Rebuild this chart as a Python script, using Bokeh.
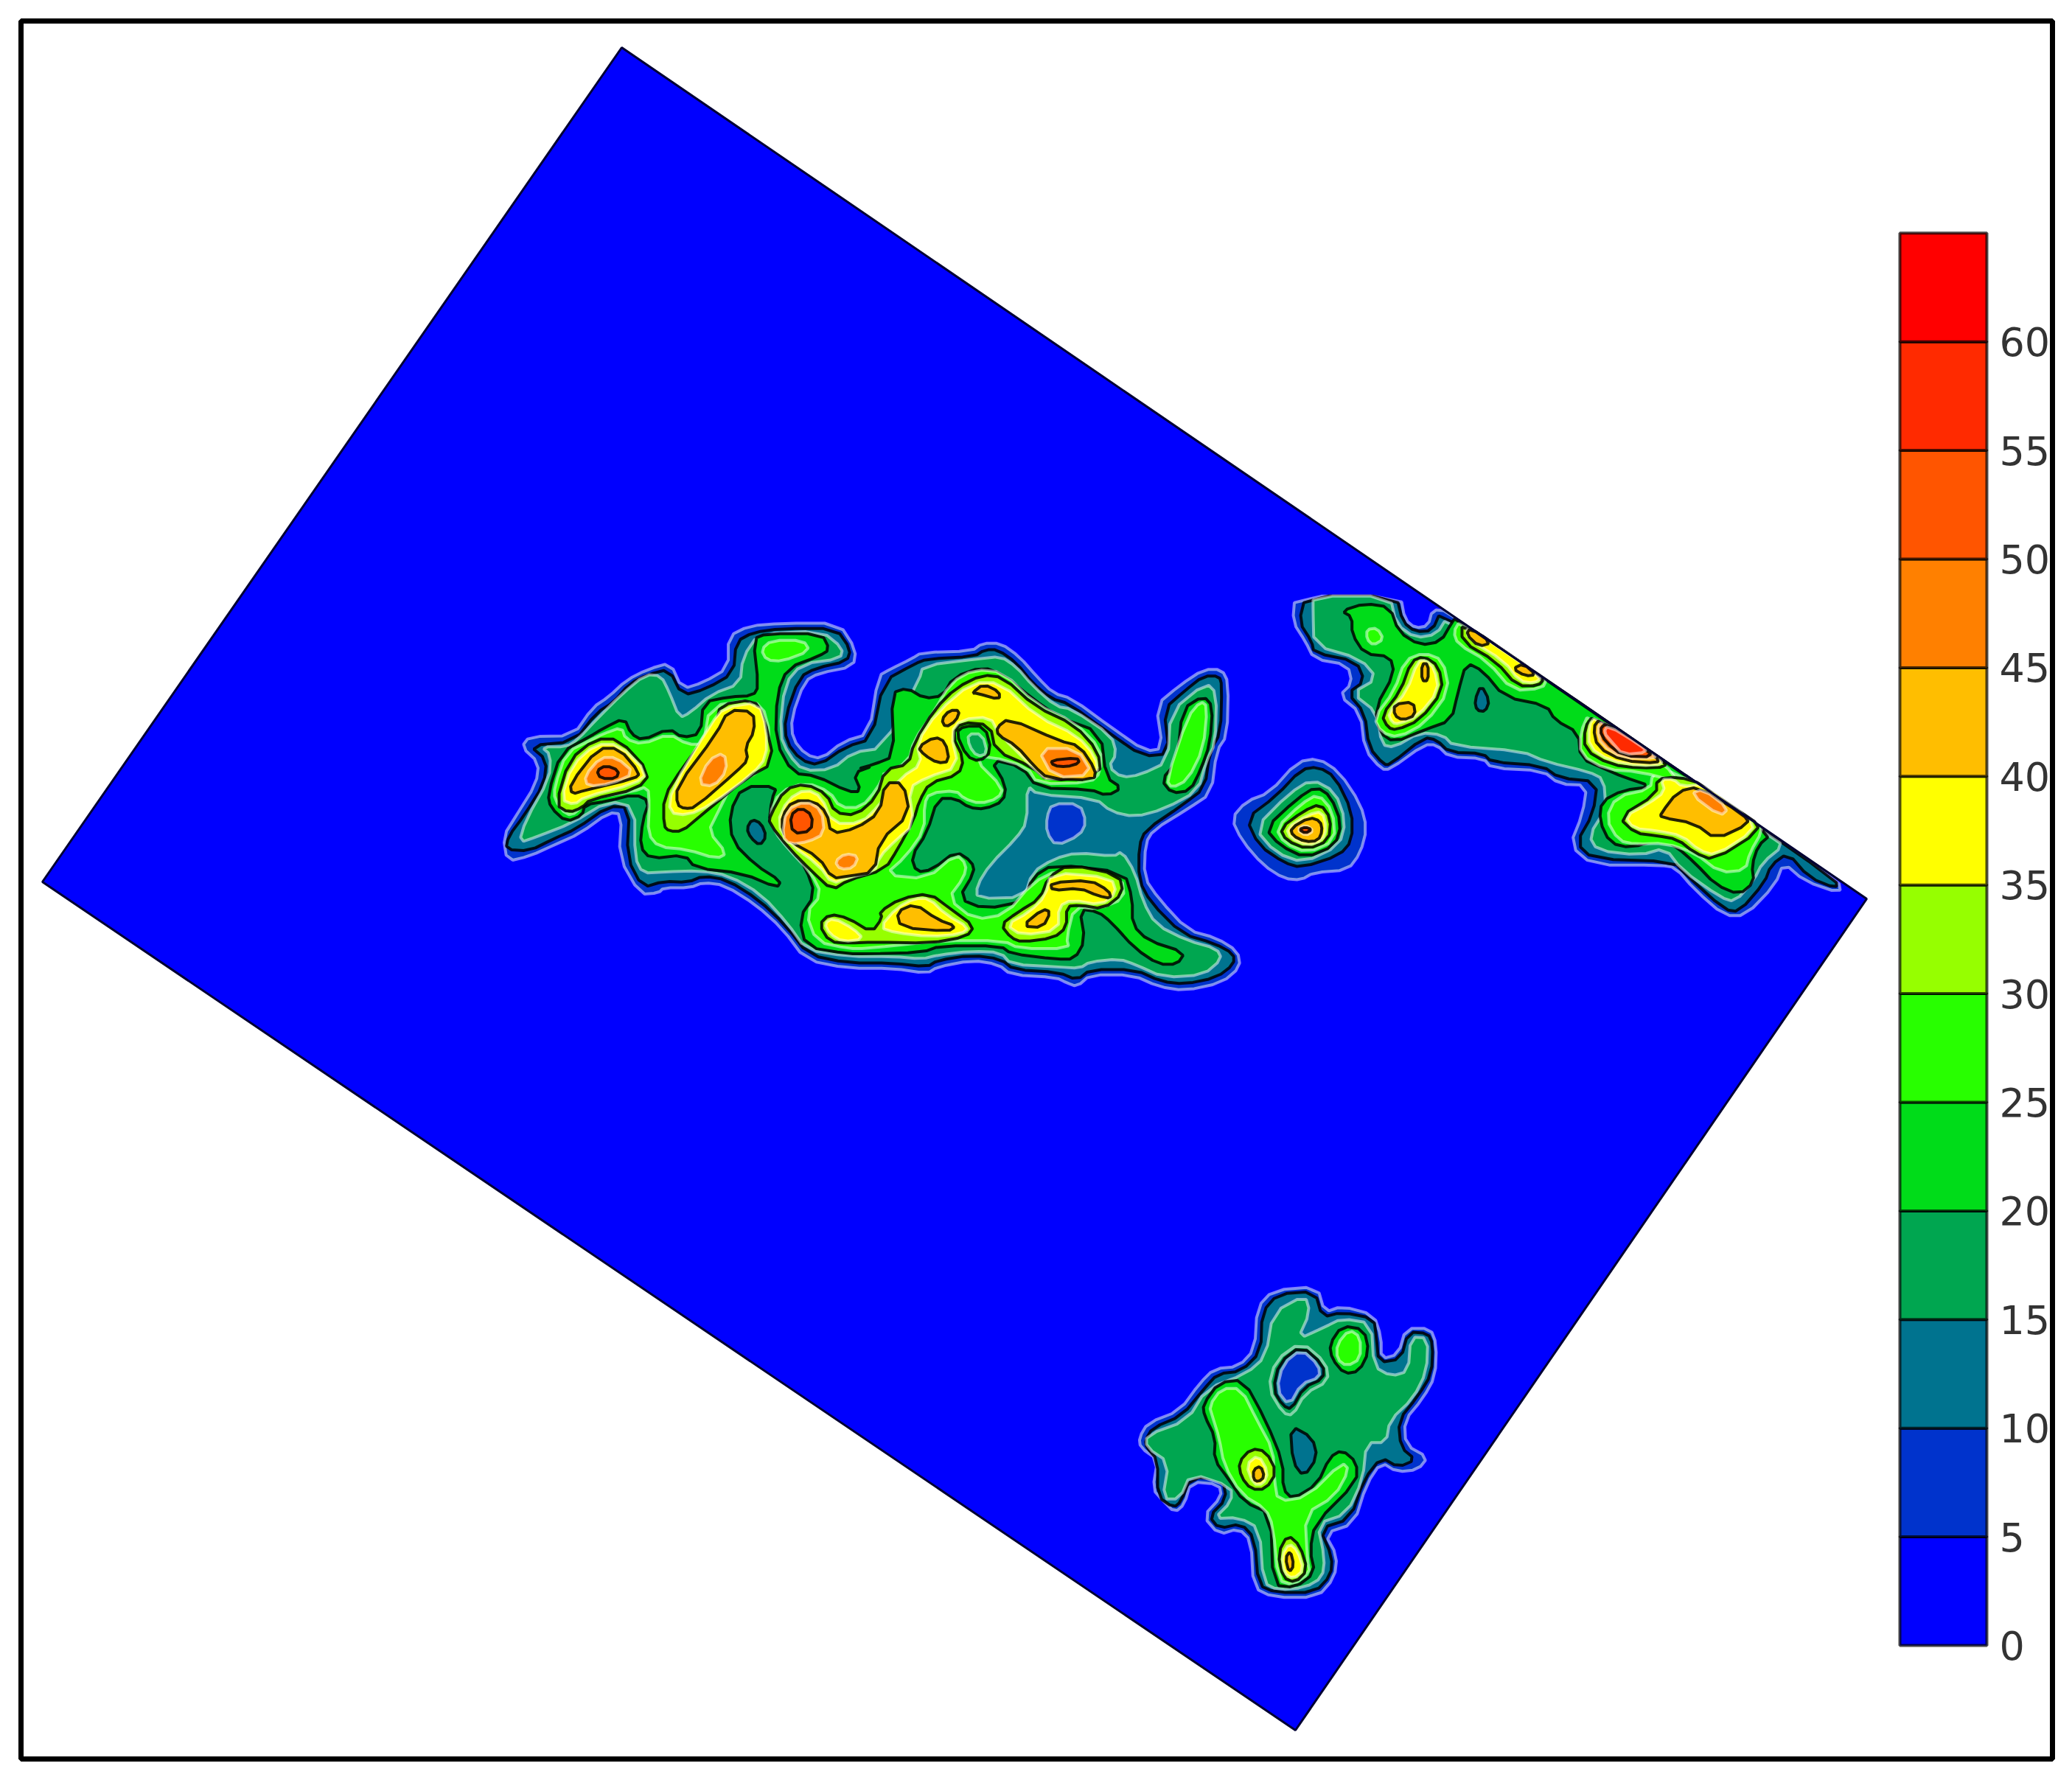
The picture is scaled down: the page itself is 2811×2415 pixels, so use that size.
from bokeh.plotting import figure
from bokeh.embed import file_html
from bokeh.resources import INLINE
from bokeh.models import Range1d
from bokeh.core.properties import value

level_values = [0, 5, 10, 15, 20, 25, 30, 35, 40, 45, 50, 55, 60]
tick_labels = ["0", "5", "10", "15", "20", "25", "30", "35", "40", "45", "50", "55", "60"]
level_colors = ["#0000ff", "#0033cc", "#00738f", "#00a650", "#00dc19", "#28ff00", "#96ff00",
                "#ffff00", "#ffbe00", "#ff8000", "#ff5500", "#ff2a00", "#ff0000"]

domain = [(843, 64), (2532, 1219), (1757, 2347), (57, 1196)]
outside_upper_right = [(843, 62), (2534, 1217), (2560, 1190), (2560, 300), (1000, 40)]

def a(p): return [(650 + x / 2.8, 820 + y / 2.8) for x, y in p]
def b(p): return [(1150 + x / 2.8, 840 + y / 2.8) for x, y in p]
def d(p): return [(1650 + x / 1.742, 780 + y / 3) for x, y in p]
def e(p): return [(1520 + x / 3, 1720 + y / 3) for x, y in p]

# ---- main island ----
main_05 = a([(105,975),(90,880),(140,800),(215,680),(225,600),(160,540),(190,500),(355,498),(430,390),(490,350),(560,285),(640,245),(725,220),(770,320),(850,295),(945,240),(945,120),(1025,80),(1150,70),(1365,70),(1430,170),(1420,235),(1290,260),(1235,290),(1185,430),(1190,510),(1240,570),(1300,585),(1380,520),(1480,490),(1515,270),(1560,245)]) \
  + b([(240,150),(280,125),(470,120),(510,90),(580,90),(650,140),(720,220),(780,280),(850,300),(1000,410),(1130,500),(1195,490),(1170,325),(1260,250),(1350,190),(1420,190),(1445,240),(1440,440),(1400,500),(1380,660),(1290,720),(1160,800),(1130,850),(1125,980),(1180,1060),(1290,1180),(1400,1210),(1480,1260),(1490,1320),(1420,1380),(1280,1410),(1180,1395),(1080,1350),(920,1350),(870,1395),(830,1380),(790,1360),(620,1350),(570,1310),(470,1295),(340,1320),(300,1345),(170,1325),(0,1325)]) \
  + a([(1240,1350),(1150,1230),(1050,1140),(930,1065),(850,1055),(800,1075),(700,1075),(680,1095),(610,1100),(530,960),(540,795),(490,790),(380,870),(290,910),(190,955)])
main_10 = a([(100,930),(110,880),(170,800),(245,680),(255,590),(190,535),(360,520),(445,410),(510,370),(570,300),(640,265),(720,245),(770,345),(860,320),(965,260),(975,140),(1040,105),(1150,90),(1355,90),(1410,170),(1395,215),(1280,240),(1215,275),(1160,430),(1165,520),(1220,590),(1290,610),(1390,540),(1490,510),(1535,290)]) \
  + b([(250,170),(300,150),(480,140),(520,115),(570,115),(640,165),(700,240),(770,300),(840,320),(990,430),(1120,520),(1220,510),(1200,340),(1280,270),(1350,215),(1410,215),(1420,250),(1415,430),(1375,500),(1355,640),(1270,705),(1130,800),(1105,860),(1105,990),(1150,1075),(1270,1195),(1390,1230),(1465,1270),(1465,1310),(1400,1360),(1280,1385),(1190,1375),(1090,1330),(920,1330),(870,1370),(800,1340),(630,1330),(580,1290),(470,1275),(340,1295),(300,1320),(170,1305),(0,1305)]) \
  + a([(1250,1330),(1165,1220),(1060,1120),(940,1045),(850,1030),(790,1055),(700,1050),(620,1075),(560,960),(570,770),(490,765),(370,850),(280,890),(190,935)])
main_10_hole = b([(775,700),(880,700),(905,770),(880,820),(790,860),(755,810),(755,750)])
main_15 = a([(150,905),(175,820),(265,660),(270,570),(235,540),(330,540),(375,510),(450,430),(540,340),(630,265),(690,270),(720,330),(760,430),(800,410),(880,340),(990,300),(1000,200),(1060,110),(1300,100),(1380,165),(1370,205),(1225,225),(1160,300),(1140,490),(1175,570),(1230,630),(1340,625),(1420,560),(1530,545)]) \
  + b([(270,230),(285,175),(490,150),(580,140),(640,180),(700,250),(790,330),(850,340),(1000,440),(1020,510),(990,560),(1040,600),(1110,590),(1215,540),(1225,350),(1360,240),(1400,280),(1395,470),(1360,540),(1330,650),(1200,720),(1090,750),(1000,730),(940,680),(720,665),(680,630),(680,770),(640,830),(540,930),(490,1010),(490,1060),(670,1055),(700,960),(780,910),(870,885),(1010,900),(1040,880),(1090,960),(1120,1070),(1170,1160),(1290,1220),(1400,1250),(1420,1290),(1350,1350),(1200,1360),(1090,1310),(1030,1290),(920,1300),(880,1325),(800,1320),(620,1310),(580,1265),(470,1260),(340,1275),(280,1290),(170,1280),(0,1280)]) \
  + a([(1240,1310),(1170,1210),(1070,1100),(950,1030),(840,1010),(700,1015),(620,1020),(590,960),(590,770),(490,745),(350,830),(220,880)])
main_20 = a([(470,470),(550,430),(575,490),(620,515),(720,470),(770,505),(840,490),(850,370),(950,350),(1040,345),(1060,310),(1040,130),(1090,110),(1300,110),(1330,170),(1290,195),(1170,240),(1130,340),(1125,520),(1190,640),(1280,650),(1400,710),(1450,710),(1420,640),(1500,610)]) \
  + b([(30,570),(100,550),(175,520),(165,280),(225,260),(290,300),(360,290),(400,220),(510,180),(590,210),(700,300),(800,370),(960,430),(980,600),(1040,640),(985,670),(920,645),(720,640),(660,560),(540,530),(600,630),(590,690),(520,720),(460,715),(410,680),(340,680),(300,810),(240,900),(260,960),(320,950),(410,880),(470,920),(480,960),(420,1060),(520,1100),(670,1070),(700,980),(780,930),(1050,960),(1080,1060),(1080,1160),(1140,1220),(1280,1265),(1250,1310),(1180,1310),(1090,1250),(1000,1150),(950,1110),(880,1100),(900,1220),(860,1290),(790,1290),(620,1270),(580,1240),(350,1240),(280,1265),(70,1270),(0,1270)]) \
  + a([(1240,1300),(1215,1190),(1275,1100),(1240,1000),(1190,930),(1100,830),(1110,740),(1130,690),(1000,690),(950,790),(960,900),(1050,990),(1145,1050),(1130,1075),(1000,1020),(820,1000),(780,950),(650,965),(610,920),(620,820),(645,745),(590,720),(490,745),(400,760),(390,800),(330,825),(270,770),(260,720),(310,560),(420,500)])
arm_20 = b([(1190,610),(1250,540),(1270,340),(1350,290),(1385,330),(1375,470),(1340,570),(1300,650),(1230,660)])
arm_25 = b([(1210,610),(1290,370),(1340,310),(1365,330),(1350,490),(1290,610),(1230,640)])
finger_25 = a([(1070,170),(1110,135),(1230,135),(1255,175),(1150,215),(1090,210)])
west_25 = a([(285,690),(330,560),(430,510),(470,490),(540,465),(555,510),(620,530),(720,490),(790,530),(850,530),(875,385),(1040,360),(1095,420),(1105,600),(1020,660),(960,680),(900,800),(870,860),(940,945),(900,965),(790,930),(680,920),(640,870),(645,760),(640,690),(580,710),(400,740),(370,790),(330,800),(285,740)])
east_25 = a([(1100,800),(1140,710),(1240,675),(1330,710),(1370,770),(1450,770),(1510,700),(1540,640)]) \
  + b([(130,590),(230,540),(250,460),(320,360),(390,240),(480,190),(590,200),(710,320),(860,390),(960,490),(960,580),(920,620),(720,625),(680,560),(540,520),(480,530),(590,640),(570,680),(500,700),(440,680),(410,650),(310,660),(290,700),(290,800),(220,900),(140,970),(300,985),(410,890),(450,930),(440,980),(380,1060),(480,1140),(600,1120),(700,1000),(800,950),(1040,980),(1050,1060),(950,1100),(860,1090),(830,1210),(840,1250),(650,1250),(590,1220),(350,1220),(70,1250),(0,1250)]) \
  + a([(1280,1280),(1240,1170),(1300,1100),(1260,1020),(1175,930),(1120,860)])
east_30 = a([(1105,800),(1160,700),(1240,680),(1320,720),(1350,790),(1430,800),(1510,730)]) \
  + b([(140,570),(230,550),(250,470),(330,340),(410,260),(510,210),(590,220),(710,330),(860,400),(950,500),(960,590),(760,615),(700,560),(560,500),(540,400),(430,390),(395,440),(440,530),(420,590),(310,620),(270,690),(250,760),(190,870),(140,950),(0,990)]) \
  + a([(1340,1085),(1260,1010),(1180,930),(1100,830)])
spot_20 = b([(410,430),(440,405),(520,405),(545,500),(500,540),(450,520)])
spot_15 = b([(455,435),(510,435),(530,510),(490,520),(460,480)])
east_35 = b([(200,600),(280,550),(260,470),(340,350),(470,240),(580,240),(720,370),(870,440),(940,520),(950,590),(760,610),(730,590),(570,430),(540,370),(430,380),(390,430),(420,560),(300,600),(230,640),(250,780),(180,840),(120,900),(100,960),(0,980)]) \
  + a([(1340,1060),(1290,990),(1180,910),(1130,830),(1170,740),(1240,700),(1300,730),(1340,830),(1450,830),(1520,760)])
east_40 = a([(1150,800),(1190,745),(1270,745),(1320,790),(1335,870),(1430,850),(1520,790)]) \
  + b([(140,620),(210,620),(235,740),(120,840),(100,960),(0,975)]) \
  + a([(1340,1040),(1290,960),(1180,900),(1150,860)])
piece_a_40 = b([(265,485),(330,445),(370,465),(385,540),(340,545),(290,515)])
piece_b_40 = b([(355,380),(385,345),(425,345),(410,385),(370,410)])
piece_c_40 = b([(470,280),(515,245),(575,275),(575,305),(490,280)])
ridge_40 = b([(565,410),(610,375),(800,460),(880,480),(940,570),(935,610),(760,605),(710,560),(640,480),(570,440)])
south_30 = b([(120,1110),(200,1060),(310,1040),(390,1100),(480,1165),(450,1205),(310,1230),(100,1225),(0,1230)]) + a([(1330,1280),(1290,1215),(1330,1175),(1400,1190),(1490,1245),(1530,1190)])
south_35a = b([(185,1095),(250,1060),(310,1060),(370,1120),(460,1170),(430,1195),(310,1205),(180,1190),(120,1170)])
south_35b = a([(1310,1210),(1345,1190),(1420,1230),(1460,1270),(1380,1280),(1330,1250)])
south_40 = b([(185,1110),(255,1080),(340,1140),(410,1165),(380,1185),(200,1170)])
se_30 = b([(580,1160),(640,1115),(730,1060),(760,980),(840,930),(1030,970),(1045,1040),(970,1100),(880,1085),(830,1090),(830,1170),(780,1210),(660,1225),(620,1210)])
se_35 = b([(600,1160),(690,1110),(750,1050),(770,960),(1000,980),(1020,1040),(960,1085),(850,1065),(800,1090),(800,1180),(660,1200)])
se_40a = b([(660,1165),(740,1100),(770,1110),(740,1170)])
se_40b = b([(770,1000),(920,990),(990,1030),(1000,1060),(950,1050),(880,1020),(775,1030)])
west_30 = a([(700,840),(700,730),(770,620),(900,450),(915,380),(1040,360),(1080,420),(1120,600),(1010,660),(830,810),(770,860),(720,860)])
west_35 = a([(720,790),(730,700),(880,450),(930,390),(1060,370),(1090,470),(1090,580),(1040,640),(880,760),(790,800)])
west_40 = a([(750,760),(750,690),(900,490),(945,400),(1040,405),(1045,480),(1010,540),(1020,590),(980,630),(820,770),(780,775)])
west_45 = a([(830,680),(870,590),(930,560),(940,630),(890,690)])
peak_30 = a([(290,760),(340,590),(440,510),(530,510),(650,640),(600,700),(420,740),(390,770),(340,790)])
peak_35 = a([(310,740),(350,610),(440,530),(530,530),(640,640),(590,680),(400,730),(360,760)])
peak_40 = a([(345,680),(450,545),(530,545),(610,640),(590,660),(400,705),(350,720)])
peak_45 = a([(400,650),(460,580),(520,580),(590,640),(500,680),(410,690)])
peak_50 = a([(445,630),(480,610),(530,630),(520,660),(460,660)])
red_45 = a([(1150,880),(1165,780),(1240,745),(1300,780),(1310,870),(1250,900),(1180,910)])
red_50 = a([(1180,800),(1220,770),(1265,800),(1260,860),(1190,870)])
low_45 = a([(1350,975),(1390,945),(1440,955),(1420,1000),(1370,1005)])
ridge_45 = b([(720,490),(870,490),(930,590),(780,600)])
ridge_50 = b([(770,535),(870,525),(880,545),(830,560),(780,555)])
hole_a_15 = b([(30,1060),(120,1050),(140,1060),(60,1115),(30,1110)])
drop_a_10 = a([(1035,815),(1070,830),(1090,880),(1065,915),(1030,885),(1015,850)])

# ---- middle islet ----
mid_05 = d([(35,990),(70,920),(125,885),(190,760),(240,745),(290,800),(340,930),(355,1030),(340,1130),(310,1200),(230,1210),(200,1240),(160,1235),(110,1180),(60,1080)])
mid_10 = d([(70,990),(140,900),(200,790),(240,780),(280,820),(320,960),(320,1080),(290,1140),(200,1190),(160,1170),(100,1100)])
mid_15 = d([(90,1030),(170,890),(225,830),(280,880),(305,1000),(290,1100),(205,1170),(140,1130)])
mid_20 = d([(115,1030),(190,910),(235,860),(270,900),(295,1010),(280,1100),(210,1150),(150,1100)])
mid_25 = d([(140,1030),(200,930),(240,890),(275,960),(280,1080),(215,1130),(160,1090)])
mid_30 = d([(150,1030),(205,960),(245,930),(270,990),(265,1080),(215,1115),(165,1080)])
mid_35 = d([(165,1030),(215,975),(250,960),(260,1030),(250,1080),(215,1100),(175,1070)])
mid_40 = d([(175,1030),(220,985),(245,1000),(250,1040),(240,1080),(210,1085),(180,1060)])
mid_45 = d([(190,1035),(210,1015),(230,1040),(210,1060)])
mid_50 = d([(195,1035),(210,1025),(225,1035),(210,1050)])

# ---- north-east band ----
band_05 = d([(185,85),(435,85),(445,180),(470,215),(500,205),(510,140),(545,145),(800,450),(1000,687),(1200,924),(1470,1243),(1475,1295),(1390,1245),(1340,1170),(1320,1260),(1250,1385),(1200,1385),(1130,1280),(1085,1190),(1050,1180),(890,1180),(835,1100),(865,970),(875,855),(810,850),(770,795),(650,785),(630,745),(550,740),(520,690),(490,690),(410,790),(390,790),(350,710),(340,560),(290,490),(320,440),(310,365),(230,340),(210,270),(180,190)])
band_10 = d([(210,85),(425,85),(440,190),(470,230),(510,225),(530,145),(800,450),(1000,687),(1200,924),(1465,1243),(1465,1275),(1400,1230),(1350,1130),(1310,1180),(1295,1250),(1235,1370),(1200,1360),(1110,1220),(1080,1165),(890,1155),(850,1090),(890,970),(900,840),(810,825),(770,775),(650,760),(630,725),(550,720),(520,670),(490,660),(410,770),(395,770),(360,700),(350,560),(310,480),(350,430),(330,350),(230,315),(225,270),(195,190)])
band_15 = d([(228,85),(410,85),(425,200),(470,255),(520,240),(545,170),(800,465),(1000,700),(1310,1065),(1340,1100),(1290,1170),(1270,1240),(1225,1330),(1190,1310),(1100,1200),(1060,1110),(1000,1140),(900,1120),(880,1060),(920,950),(915,830),(880,800),(780,760),(720,715),(560,695),(535,650),(480,640),(420,700),(390,690),(380,560),(320,480),(380,420),(340,340),(230,285),(228,150)])
band_20 = d([(295,145),(350,115),(410,130),(430,230),(480,285),(530,270),(555,195),(565,172),(820,474),(1000,687),(1200,924),(1310,1055),(1280,1100),(1265,1180),(1270,1250),(1235,1300),(1180,1260),(1130,1170),(1090,1110),(1050,1070),(980,1110),(930,1090),(905,1000),(910,920),(960,875),(1030,860),(960,820),(920,790),(860,745),(855,640),(800,590),(780,530),(680,495),(630,390),(590,355),(570,480),(555,590),(490,630),(420,680),(385,640),(375,540),(420,400),(410,330),(350,320),(320,240),(320,170)])
band_drop_10 = d([(625,445),(645,510),(635,555),(615,550),(610,510)])
band_spot_25 = d([(355,220),(380,215),(395,260),(370,285),(355,260)])
band_n_25 = d([(575,185),(780,425),(770,460),(700,470),(640,350),(570,280),(560,230)])
band_n_30 = d([(580,190),(775,420),(760,450),(710,450),(660,350),(580,270)])
band_n_35 = d([(590,205),(770,415),(750,440),(715,430),(680,350),(595,260)])
band_n_40a = d([(600,215),(650,275),(620,290),(590,240)])
band_n_40b = d([(700,380),(725,360),(755,405),(730,410)])
band_w_25 = d([(372,580),(420,470),(445,345),(490,315),(535,345),(550,470),(495,600),(430,660),(390,640)])
band_w_30 = d([(390,570),(435,470),(460,350),(490,330),(525,370),(535,470),(480,590),(425,630),(405,620)])
band_w_35 = d([(405,560),(450,470),(475,350),(495,345),(515,380),(525,470),(475,575),(430,605),(415,600)])
band_w_40 = d([(420,525),(465,515),(470,570),(440,590),(420,570)])
band_w_40b = d([(485,360),(500,360),(500,430),(485,430)])
band_e_25 = d([(920,990),(945,900),(1025,870),(1030,810),(1060,790),(1110,830),(1150,850),(1280,1015),(1290,1040),(1260,1130),(1250,1200),(1190,1210),(1130,1130),(1060,1090),(990,1095),(950,1080)])
band_e_30 = d([(950,985),(1040,890),(1040,830),(1090,820),(1150,850),(1265,985),(1285,1040),(1175,1160),(1130,1130),(1090,1075),(1040,1060),(990,1050)])
band_e_35 = d([(965,980),(1020,930),(1060,880),(1050,830),(1080,830),(1100,860),(1150,850),(1260,990),(1270,1040),(1180,1140),(1140,1120),(1100,1060),(1040,1040),(985,1030)])
band_e_40 = d([(1050,970),(1090,880),(1140,860),(1245,975),(1260,1010),(1180,1075),(1130,1010),(1050,985)])
band_e_45 = d([(1120,890),(1150,870),(1210,950),(1190,980)])
band_r_25 = d([(880,560),(1060,770),(1090,840),(1000,800),(920,790),(860,730),(860,640)])
band_r_30 = d([(890,570),(1050,750),(1065,780),(1000,785),(930,770),(870,710),(870,620)])
band_r_35 = d([(895,575),(1045,745),(1055,770),(1000,775),(930,755),(880,700),(880,610)])
band_r_40 = d([(905,585),(1040,740),(1045,765),(960,755),(900,700),(890,620)])
band_r_45 = d([(910,590),(1030,730),(1040,745),(960,745),(910,690),(900,630)])
band_r_50 = d([(920,600),(1000,690),(1035,740),(960,735),(920,680),(905,630)])
band_r_55 = d([(925,610),(1000,690),(1020,720),(960,730),(935,680),(915,640)])

# ---- south island ----
south_05 = e([(75,690),(110,630),(240,580),(320,470),(380,410),(480,400),(545,330),(555,160),(620,90),(800,75),(830,180),(900,155),(1030,190),(1060,280),(1060,370),(1130,350),(1160,245),(1260,245),(1285,310),(1280,440),(1230,530),(1155,620),(1160,720),(1250,770),(1210,820),(1125,830),(1060,790),(1000,880),(950,1040),(830,1080),(880,1170),(870,1260),(800,1340),(620,1340),(540,1300),(530,1110),(480,1060),(400,1085),(335,1010),(410,930),(400,880),(285,870),(260,960),(220,995),(170,945),(130,900),(150,780),(80,730)])
south_10 = e([(100,700),(130,650),(250,600),(340,490),(395,430),(490,420),(570,340),(575,180),(640,105),(790,95),(820,200),(900,180),(1030,205),(1040,280),(1050,385),(1140,370),(1170,260),(1250,265),(1270,310),(1265,430),(1210,520),(1130,620),(1140,730),(1200,780),(1130,810),(1060,770),(990,860),(935,1020),(810,1060),(860,1175),(855,1250),(790,1320),(630,1320),(560,1290),(545,1100),(490,1040),(400,1060),(360,1010),(430,940),(415,860),(285,850),(245,950),(215,975),(150,930),(150,780),(105,730)])
south_15 = e([(105,680),(270,620),(350,490),(510,430),(590,360),(620,180),(750,110),(770,180),(720,290),(830,240),(900,205),(1020,225),(1030,400),(1100,440),(1170,420),(1180,280),(1250,285),(1245,420),(1190,530),(1095,620),(1080,710),(1000,710),(985,860),(920,1000),(800,1040),(830,1180),(820,1260),(750,1300),(640,1310),(580,1280),(565,1060),(480,1015),(380,1020),(450,950),(450,890),(285,835),(240,940),(170,940),(195,790),(105,730)])
south_hole_15 = e([(600,490),(630,375),(735,300),(835,385),(845,460),(750,510),(700,600),(660,590)])
south_hole_10 = e([(620,495),(645,385),(735,315),(825,395),(825,450),(745,485),(695,575),(660,560)])
south_hole_05 = e([(635,495),(660,390),(735,330),(805,395),(810,445),(735,470),(685,560)])
south_teal = e([(690,640),(780,690),(800,770),(745,850),(700,790)])
south_20 = e([(335,555),(400,465),(500,455),(590,620),(660,790),(660,900),(700,940),(800,880),(850,770),(900,740),(960,790),(960,870),(790,1040),(770,1150),(790,1240),(710,1300),(620,1290),(610,1000),(500,950),(440,860),(380,780),(385,690),(340,600)])
south_top_20 = e([(850,310),(900,235),(990,250),(1010,340),(970,420),(910,430),(860,370)])
south_25 = e([(360,560),(410,490),(490,490),(555,620),(620,740),(625,860),(640,950),(760,930),(900,790),(930,820),(870,930),(750,1000),(760,1190),(770,1240),(700,1290),(640,1270),(620,1050),(590,980),(490,920),(420,800),(400,690),(375,610)])
south_top_25 = e([(880,310),(930,250),(975,280),(975,370),(920,400),(880,370)])
s1_30 = e([(480,790),(530,735),(590,745),(635,830),(590,900),(530,900),(490,850)])
s1_35 = e([(510,800),(560,760),(600,830),(580,880),(540,880)])
s1_40 = e([(540,820),(570,805),(585,850),(560,870),(540,860)])
s2_30 = e([(640,1160),(680,1085),(730,1130),(760,1230),(710,1280),(660,1260)])
s2_35 = e([(655,1170),(685,1120),(720,1150),(745,1230),(700,1265),(665,1240)])
s2_40 = e([(670,1180),(690,1150),(705,1210),(685,1240)])

# (contour level, polygon), painted in this order
layers = [
    (5, main_05), (5, mid_05), (5, band_05), (5, south_05),
    (10, main_10), (10, mid_10), (10, band_10), (10, south_10),
    (15, main_15), (15, mid_15), (15, band_15), (15, south_15),
    (15, south_hole_15), (10, south_hole_10), (5, south_hole_05), (5, main_10_hole),
    (10, south_teal), (10, drop_a_10),
    (20, main_20), (20, arm_20), (20, mid_20), (20, band_20), (20, south_20), (20, south_top_20),
    (15, hole_a_15), (10, band_drop_10),
    (25, arm_25), (25, finger_25), (25, west_25), (25, east_25), (25, mid_25), (25, band_spot_25),
    (25, band_n_25), (25, band_w_25), (25, band_e_25), (25, band_r_25), (25, south_25), (25, south_top_25),
    (30, east_30), (30, west_30), (30, peak_30), (30, south_30), (30, se_30), (30, mid_30),
    (30, band_n_30), (30, band_w_30), (30, band_e_30), (30, band_r_30), (30, s1_30), (30, s2_30),
    (20, spot_20), (15, spot_15),
    (35, east_35), (35, west_35), (35, peak_35), (35, south_35a), (35, south_35b), (35, se_35), (35, mid_35),
    (35, band_n_35), (35, band_w_35), (35, band_e_35), (35, band_r_35), (35, s1_35), (35, s2_35),
    (40, east_40), (40, piece_a_40), (40, piece_b_40), (40, piece_c_40), (40, ridge_40), (40, south_40),
    (40, se_40a), (40, se_40b), (40, west_40), (40, peak_40), (40, mid_40), (40, band_n_40a), (40, band_n_40b),
    (40, band_w_40), (40, band_w_40b), (40, band_e_40), (40, band_r_40), (40, s1_40), (40, s2_40),
    (45, west_45), (45, peak_45), (45, red_45), (45, low_45), (45, ridge_45), (45, mid_45), (45, band_e_45), (45, band_r_45),
    (50, peak_50), (50, red_50), (50, ridge_50), (50, mid_50), (50, band_r_50),
    (55, band_r_55),
]

def smooth(pts):
    out = []
    n = len(pts)
    for i in range(n):
        x0, y0 = pts[i]
        x1, y1 = pts[(i + 1) % n]
        out.append((0.75 * x0 + 0.25 * x1, 0.75 * y0 + 0.25 * y1))
        out.append((0.25 * x0 + 0.75 * x1, 0.25 * y0 + 0.75 * y1))
    return out

W, H = 2795, 2399
p = figure(width=W, height=H, x_range=Range1d(0, W), y_range=Range1d(H, 0),
           output_backend="svg", toolbar_location=None, min_border=0,
           x_axis_location=None, y_axis_location=None, outline_line_color=None,
           background_fill_color="white", border_fill_color="white")
p.grid.visible = False

p.extra_y_ranges = {"lev": Range1d((2232 - H) / 29.48, 2232 / 29.48)}

# frame
p.patch([28, 2784, 2784, 28], [28, 28, 2386, 2386], fill_color="white", line_color="black", line_width=7)

# domain
p.patch([c[0] for c in domain], [c[1] for c in domain], fill_color=level_colors[0], line_color=None)

for lev, poly in layers:
    pts = smooth(poly)
    odd = lev % 10 == 5
    p.patch([q[0] for q in pts], [q[1] for q in pts], fill_color=level_colors[lev // 5],
            line_color="white" if odd else "black", line_alpha=0.5 if odd else 0.85, line_width=4)

p.patch([c[0] for c in outside_upper_right], [c[1] for c in outside_upper_right], fill_color="white", line_color=None)
p.patch([c[0] for c in domain], [c[1] for c in domain], fill_color=None, line_color="#000033", line_width=3)

# colour scale
p.quad(left=2577, right=2695, bottom=level_values, top=[v + 5 for v in level_values],
       fill_color=level_colors, line_color="black", line_alpha=0.7, line_width=4, y_range_name="lev")
p.text(x=[2712] * len(level_values), y=level_values, text=tick_labels, y_range_name="lev",
       text_font=value("DejaVu Sans"), text_font_size="54px", text_color="#333333",
       text_align="left", text_baseline="middle")

open("out.html", "w").write(file_html(p, INLINE))
